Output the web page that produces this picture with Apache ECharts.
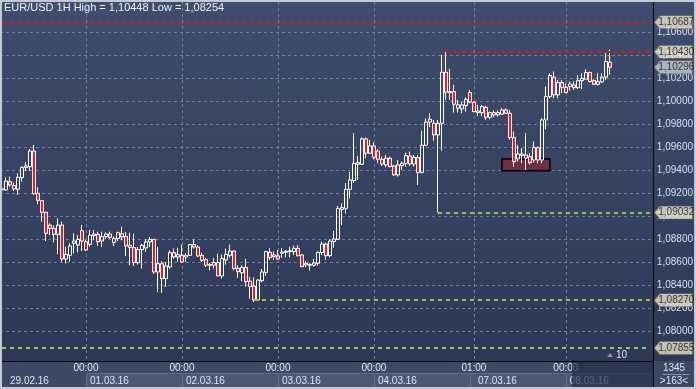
<!DOCTYPE html>
<html><head><meta charset="utf-8">
<script src="https://cdn.jsdelivr.net/npm/echarts@6/dist/echarts.min.js"></script>
<style>
html,body{margin:0;padding:0;background:#2f3b58;}
#c{width:696px;height:389px;background:linear-gradient(to bottom,#3f4d6e 0%,#2b3754 100%);}
</style></head><body><div id="c"></div>
<script>
const opens=[1.0923,1.09229,1.09301,1.09267,1.09235,1.09336,1.09423,1.09432,1.09568,1.09200,
1.09136,1.09035,1.08924,1.08895,1.08843,1.08924,1.08629,1.08661,1.08765,1.08750,
1.08875,1.08779,1.08756,1.08832,1.08843,1.08785,1.08823,1.08846,1.08773,1.08808,
1.08849,1.08826,1.08748,1.08727,1.08597,1.08710,1.08725,1.08777,1.08800,1.08516,
1.08588,1.08458,1.08559,1.08684,1.08646,1.08661,1.08646,1.08661,1.08754,1.08733,
1.08661,1.08623,1.08580,1.08574,1.08597,1.08481,1.08620,1.08660,1.08698,1.08548,
1.08510,1.08556,1.08437,1.08394,1.08272,1.08440,1.08513,1.08687,1.08649,1.08655,
1.08678,1.08687,1.08693,1.08693,1.08722,1.08664,1.08577,1.08582,1.08574,1.08591,
1.08684,1.08759,1.08658,1.08780,1.08800,1.09060,1.09069,1.09235,1.09310,1.09452,
1.09452,1.09673,1.09548,1.09612,1.09568,1.09496,1.09447,1.09505,1.09438,1.09360,
1.09441,1.09461,1.09525,1.09455,1.09510,1.09380,1.09618,1.09820,1.09809,1.09708,
1.09809,1.10253,1.10076,1.10085,1.09940,1.09934,1.09963,1.10076,1.09992,1.09916,
1.09902,1.09948,1.09861,1.09902,1.09882,1.09888,1.09925,1.09896,1.09684,1.09499,
1.09528,1.09534,1.09519,1.09490,1.09597,1.09490,1.09838,1.10041,1.10209,1.10056,
1.10163,1.10122,1.10128,1.10142,1.10119,1.10180,1.10192,1.10250,1.10180,1.10148,
1.10168,1.10210,1.10340];
const closes=[1.0924,1.09307,1.09272,1.09238,1.09339,1.09426,1.09438,1.09568,1.09197,1.09139,
1.09035,1.08852,1.08895,1.08843,1.08924,1.08629,1.08669,1.08742,1.08785,1.08800,
1.08785,1.08707,1.08837,1.08846,1.08779,1.08823,1.08846,1.08817,1.08808,1.08857,
1.08820,1.08742,1.08727,1.08597,1.08710,1.08748,1.08777,1.08800,1.08516,1.08588,
1.08458,1.08568,1.08684,1.08646,1.08667,1.08603,1.08661,1.08754,1.08733,1.08655,
1.08617,1.08574,1.08574,1.08597,1.08481,1.08632,1.08670,1.08698,1.08547,1.08519,
1.08556,1.08432,1.08388,1.08272,1.08446,1.08516,1.08693,1.08640,1.08664,1.08629,
1.08690,1.08696,1.08701,1.08722,1.08658,1.08562,1.08591,1.08574,1.08594,1.08687,
1.08759,1.08658,1.08785,1.08803,1.09069,1.09075,1.09235,1.09316,1.09461,1.09467,
1.09673,1.09548,1.09612,1.09513,1.09496,1.09455,1.09505,1.09432,1.09360,1.09447,
1.09461,1.09528,1.09455,1.09513,1.09380,1.09618,1.09820,1.09844,1.09708,1.09809,
1.10253,1.10079,1.10085,1.09974,1.09969,1.09969,1.10018,1.09992,1.09910,1.09902,
1.09954,1.09861,1.09902,1.09882,1.09902,1.09925,1.09896,1.09684,1.09476,1.09542,
1.09542,1.09505,1.09467,1.09597,1.09490,1.09838,1.10041,1.10224,1.10056,1.10163,
1.10122,1.10076,1.10151,1.10119,1.10180,1.10200,1.10250,1.10172,1.10148,1.10171,
1.10210,1.10346,1.10296];
const lows=[1.0922,1.09223,1.09258,1.0922,1.09185,1.09301,1.09394,1.09394,1.09185,1.09104,
1.08953,1.08785,1.08837,1.08773,1.08672,1.08605,1.08591,1.08605,1.08678,1.08686,
1.08698,1.08701,1.08736,1.08791,1.08742,1.08733,1.08803,1.08803,1.08742,1.08785,
1.08791,1.08655,1.08574,1.08568,1.08580,1.08545,1.08690,1.08733,1.08501,1.08342,
1.08336,1.08385,1.08545,1.08632,1.08603,1.08597,1.08603,1.08655,1.08719,1.08646,
1.08603,1.08559,1.08530,1.08545,1.08481,1.08458,1.08580,1.08640,1.08530,1.08464,
1.08435,1.08388,1.08281,1.08254,1.08266,1.08426,1.08484,1.08620,1.08620,1.08625,
1.08640,1.08643,1.08643,1.08664,1.08649,1.08556,1.08556,1.08527,1.08562,1.08571,
1.08664,1.08620,1.08643,1.08727,1.08794,1.08924,1.09026,1.09157,1.09290,1.09316,
1.09447,1.09505,1.09542,1.09496,1.09461,1.09438,1.09426,1.09426,1.09351,1.09345,
1.09403,1.09432,1.09438,1.09432,1.09273,1.09374,1.09612,1.09774,1.09658,1.09032,
1.09571,1.10012,1.10012,1.09902,1.09902,1.09896,1.09910,1.09983,1.09910,1.09873,
1.09873,1.09838,1.09844,1.09861,1.09867,1.09882,1.09891,1.09664,1.09432,1.09476,
1.09461,1.09403,1.09450,1.09467,1.09461,1.09461,1.09757,1.10027,1.10027,1.10027,
1.10070,1.10070,1.10093,1.10099,1.10107,1.10107,1.10192,1.10163,1.10142,1.10134,
1.10157,1.10186,1.10230];
const highs=[1.0925,1.09339,1.09345,1.09293,1.09374,1.09432,1.09470,1.09585,1.09620,1.09252,
1.09142,1.09040,1.08939,1.08921,1.08982,1.08953,1.08736,1.08765,1.08852,1.08838,
1.08924,1.08794,1.08880,1.08880,1.08866,1.08866,1.08860,1.08866,1.08823,1.08866,
1.08910,1.08864,1.08858,1.08849,1.08733,1.08762,1.08800,1.08820,1.08800,1.08733,
1.08609,1.08603,1.08704,1.08719,1.08727,1.08754,1.08681,1.08760,1.08800,1.08748,
1.08684,1.08638,1.08594,1.08638,1.08675,1.08667,1.08720,1.08754,1.08704,1.08574,
1.08574,1.08629,1.08475,1.08469,1.08452,1.08542,1.08701,1.08722,1.08693,1.08707,
1.08722,1.08707,1.08736,1.08745,1.08751,1.08672,1.08611,1.08591,1.08629,1.08693,
1.08780,1.08771,1.08800,1.08872,1.09090,1.09113,1.09287,1.09386,1.09722,1.09525,
1.09687,1.09684,1.09664,1.09641,1.09583,1.09519,1.09534,1.09519,1.09447,1.09490,
1.09476,1.09554,1.09563,1.09534,1.09534,1.09745,1.09853,1.09896,1.09838,1.09838,
1.10403,1.10430,1.10282,1.10143,1.10012,1.09998,1.10035,1.10099,1.09998,1.09969,
1.09969,1.09960,1.09911,1.09920,1.09920,1.09940,1.09940,1.09925,1.09737,1.09621,
1.09592,1.09722,1.09548,1.09650,1.09606,1.09853,1.10128,1.10244,1.10259,1.10186,
1.10186,1.10157,1.10171,1.10171,1.10229,1.10244,1.10279,1.10259,1.10192,1.10244,
1.10244,1.10418,1.10448];

// session markers (category index of the day's first labelled bar)
const dayStarts=[21,45,69,93,118,141];
const boxStarts=[21,45,69,93,117,141];
const dayLabels=['01.03.16','02.03.16','03.03.16','04.03.16','07.03.16','08.03.16'];
const timeLabels=['00:00','00:00','00:00','00:00','01:00','00:00'];
const firstDayLabel='29.02.16';
const firstHour=3;
const slotCount=163;

// horizontal levels
const levelValues=[1.10687,1.10430,1.09032,1.08270,1.07855];
const levelStarts=[0,111,109,63,0];
const levelColors=['#e81010','#e81010','#93cc44','#93cc44','#93cc44'];
// price tags on the right scale
const tagValues=[1.10687,1.10430,1.10296,1.09032,1.08270,1.07855];
const tagFills=['#e8e4cc','#e8e4cc','#c9cdd3','#e8e4cc','#e8e4cc','#e8e4cc'];
// highlighted zone
const zoneFrom=125, zoneTo=137, zoneTop=1.09498, zoneBottom=1.09397;

const titleText='EUR/USD 1H High = 1,10448 Low = 1,08254';
const FONT='"Liberation Sans", Arial, sans-serif';
const fmt=v=>v.toFixed(5).replace('.',',');

// category labels (hour stamps)
const allDays=[firstDayLabel].concat(dayLabels);
const allStarts=[0].concat(dayStarts);
const allStartHours=[firstHour].concat(timeLabels.map(t=>parseInt(t,10)));
const categories=[];
for(let i=0;i<slotCount;i++){
  let k=0; for(let j=0;j<allStarts.length;j++) if(i>=allStarts[j]) k=j;
  const h=(allStartHours[k]+i-allStarts[k]);
  categories.push(allDays[k]+' '+String(h).padStart(2,'0')+':00');
}

const chart=echarts.init(document.getElementById('c'),null,{renderer:'canvas'});
const option={
  animation:false,
  grid:{left:0,right:43,top:12,bottom:37,containLabel:false},
  xAxis:{type:'category',data:categories,boundaryGap:true,
    axisLine:{show:false},axisTick:{show:false},axisLabel:{show:false},splitLine:{show:false}},
  yAxis:{type:'value',position:'right',min:1.0782,max:1.107765,splitNumber:14,
    minInterval:0.002,maxInterval:0.002,
    axisLine:{show:false},axisTick:{show:false},
    splitLine:{show:true,showMinLine:false,showMaxLine:false,lineStyle:{color:'#6d7d9b',type:[3,3],width:1}},
    axisLabel:{margin:5,color:'#d4e2f2',fontSize:10,fontFamily:FONT,showMinLabel:false,showMaxLabel:false,formatter:fmt}},
  series:[
    {type:'candlestick',z:3,barWidth:3,
     data:opens.map((o,i)=>[o,closes[i],lows[i],highs[i]]),
     itemStyle:{color:'rgba(0,0,0,0)',color0:'#ff1414',borderColor:'#ffffff',borderColor0:'#ffffff',borderWidth:1},
     markLine:{silent:true,symbol:['none','none'],label:{show:false},animation:false,
       lineStyle:{width:2,type:[4,4]},
       data:levelValues.map((v,i)=>[
         {coord:[levelStarts[i],v],lineStyle:{color:levelColors[i],type:[4,4],width:2}},
         {coord:[slotCount-1,v]}])}},
    {type:'line',data:[],z:5,silent:true,
     markArea:{silent:true,itemStyle:{color:'rgba(125,42,62,0.82)',borderColor:'#000000',borderWidth:1.5},
       data:[[{xAxis:categories[zoneFrom],yAxis:zoneTop},{xAxis:categories[zoneTo],yAxis:zoneBottom}]]}},
    {type:'scatter',z:10,clip:false,silent:true,
     symbol:'path://M0,6L6,0L40,0L40,12L6,12Z',symbolSize:[39,13],symbolOffset:[23.5,0],
     data:tagValues.map((v,i)=>({value:[slotCount-1,v],itemStyle:{color:tagFills[i],borderColor:'#5a5a5a',borderWidth:1}})),
     label:{show:true,position:'inside',offset:[3,0],color:'#111111',fontSize:10,fontFamily:FONT,formatter:p=>fmt(p.value[1])}}
  ]
};
chart.setOption(option);

const px=i=>chart.convertToPixel({xAxisIndex:0},categories[i]);
const g=[];
// vertical session lines
dayStarts.forEach(i=>{
  const x=Math.round(px(i))+0.5;
  g.push({type:'line',z:1,silent:true,shape:{x1:x,y1:2,x2:x,y2:361},style:{stroke:'#6d7d9b',lineWidth:1,lineDash:[3,3]}});
});
// bottom bar
g.push({type:'rect',z:50,silent:true,shape:{x:0,y:361,width:696,height:28},style:{fill:'#3d4a66'}});
boxStarts.forEach((i,k)=>{
  const x0=Math.round(px(i))+0.5;
  const x1=k<boxStarts.length-1?Math.round(px(boxStarts[k+1]))+0.5:653.5;
  g.push({type:'rect',z:51,silent:true,shape:{x:x0,y:373.5,width:x1-x0,height:15},style:{fill:'#4b5977',stroke:'#5f6d8b',lineWidth:1}});
});
g.push({type:'text',z:52,silent:true,x:10,y:381,style:{text:firstDayLabel,fill:'#dde7f2',font:'10px '+FONT,textVerticalAlign:'middle'}});
dayStarts.forEach((i,k)=>{
  const x=px(i);
  g.push({type:'text',z:52,silent:true,x:x,y:368,style:{text:timeLabels[k],fill:'#dde7f2',font:'10px '+FONT,textAlign:'center',textVerticalAlign:'middle'}});
  g.push({type:'text',z:52,silent:true,x:x+4,y:381,style:{text:dayLabels[k],fill:'#dde7f2',font:'10px '+FONT,textVerticalAlign:'middle'}});
});
// dimmed overlay at the right end of the time bar
const ovX=Math.round(px(dayStarts[dayStarts.length-1]))+6;
g.push({type:'rect',z:55,silent:true,shape:{x:ovX,y:361,width:653-ovX,height:28},style:{fill:'rgba(36,47,72,0.72)'}});
// axis lines
g.push({type:'line',z:60,silent:true,shape:{x1:0,y1:361.5,x2:654,y2:361.5},style:{stroke:'#000',lineWidth:1}});
g.push({type:'line',z:60,silent:true,shape:{x1:653.5,y1:0,x2:653.5,y2:389},style:{stroke:'#000',lineWidth:1}});
// bottom-right box
g.push({type:'rect',z:56,silent:true,shape:{x:654,y:362,width:41,height:26},style:{fill:'#3b4866'}});
g.push({type:'text',z:57,silent:true,x:674,y:368,style:{text:'1345',fill:'#dde7f2',font:'10px '+FONT,textAlign:'center',textVerticalAlign:'middle'}});
g.push({type:'line',z:57,silent:true,shape:{x1:663,y1:374.5,x2:689,y2:374.5},style:{stroke:'#8893a8',lineWidth:1}});
g.push({type:'text',z:57,silent:true,x:674,y:381,style:{text:'>163<',fill:'#dde7f2',font:'10px '+FONT,textAlign:'center',textVerticalAlign:'middle'}});
// shift marker
g.push({type:'polygon',z:20,silent:true,shape:{points:[[607,357],[610,353],[613,357]]},style:{fill:'#8c96aa'}});
g.push({type:'text',z:20,silent:true,x:616,y:355,style:{text:'10',fill:'#e4ebf3',font:'10px '+FONT,textVerticalAlign:'middle'}});
// title
g.push({type:'text',z:100,silent:true,x:4,y:8,style:{text:titleText,fill:'#eef3f8',font:'11px '+FONT,textVerticalAlign:'middle'}});
// outer frame
g.push({type:'rect',z:100,silent:true,shape:{x:1,y:1,width:694,height:387},style:{fill:'none',stroke:'#c3cad3',lineWidth:2}});
chart.setOption({graphic:g});
</script></body></html>
